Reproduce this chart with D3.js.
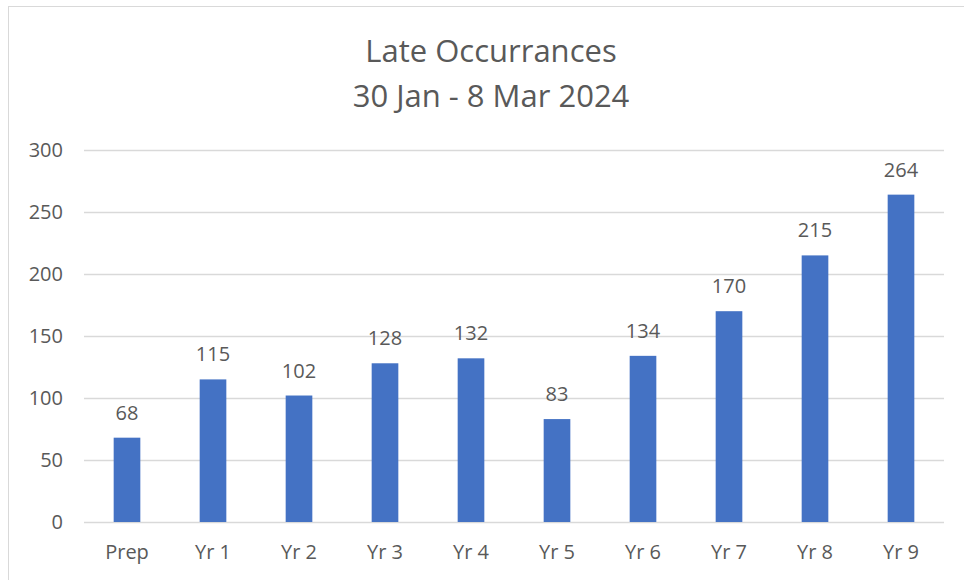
<!DOCTYPE html>
<html>
<head>
<meta charset="utf-8">
<script src="https://cdn.jsdelivr.net/npm/d3@7"></script>
<style>
  body { margin: 0; background: #fff; }
  svg text { font-family: "Open Sans", sans-serif; fill: #595959; }
</style>
</head>
<body>
<svg id="chart" width="964" height="580" viewBox="0 0 964 580"></svg>
<script>
const categories = ["Prep", "Yr 1", "Yr 2", "Yr 3", "Yr 4", "Yr 5", "Yr 6", "Yr 7", "Yr 8", "Yr 9"];
const lateCounts = [68, 115, 102, 128, 132, 83, 134, 170, 215, 264];
const yTicks = [0, 50, 100, 150, 200, 250, 300];
const titleLines = ["Late Occurrances", "30 Jan - 8 Mar 2024"];

const svg = d3.select("#chart");

// chart frame
svg.append("rect")
  .attr("x", 8.5).attr("y", 6.5)
  .attr("width", 980).attr("height", 600)
  .attr("fill", "none")
  .attr("stroke", "#d9d9d9");

const x = d3.scaleBand()
  .domain(categories)
  .range([84, 944])
  .paddingInner(0.69)
  .paddingOuter(0.345);

const y = d3.scaleLinear()
  .domain([0, 300])
  .range([522, 150]);

// gridlines
svg.append("g")
  .selectAll("line")
  .data(yTicks)
  .join("line")
  .attr("x1", 84).attr("x2", 944)
  .attr("y1", d => Math.round(y(d)) + 0.5)
  .attr("y2", d => Math.round(y(d)) + 0.5)
  .attr("stroke", "#d9d9d9")
  .attr("stroke-width", 1.3);

// y axis labels
const yAxis = svg.append("g")
  .attr("transform", "translate(63,0)")
  .call(d3.axisLeft(y).tickValues(yTicks).tickSize(0).tickPadding(0));
yAxis.select(".domain").remove();
yAxis.selectAll("text")
  .attr("font-size", 20)
  .attr("font-family", null)
  .attr("fill", null);

// x axis labels
const xAxis = svg.append("g")
  .attr("transform", "translate(0,522)")
  .call(d3.axisBottom(x).tickSize(0).tickPadding(23));
xAxis.select(".domain").remove();
xAxis.selectAll("text")
  .attr("font-size", 20)
  .attr("font-family", null)
  .attr("fill", null);

// bars
svg.append("g")
  .selectAll("rect")
  .data(lateCounts)
  .join("rect")
  .attr("x", (d, i) => x(categories[i]))
  .attr("y", d => y(d))
  .attr("width", x.bandwidth())
  .attr("height", d => y(0) - y(d))
  .attr("fill", "#4472c4");

// value labels
svg.append("g")
  .selectAll("text")
  .data(lateCounts)
  .join("text")
  .attr("x", (d, i) => x(categories[i]) + x.bandwidth() / 2)
  .attr("y", d => y(d) - 18)
  .attr("text-anchor", "middle")
  .attr("font-size", 20)
  .text(d => d);

// title
svg.append("g")
  .selectAll("text")
  .data(titleLines)
  .join("text")
  .attr("x", 491)
  .attr("y", (d, i) => 62 + i * 45)
  .attr("text-anchor", "middle")
  .attr("font-size", 31)
  .text(d => d);
</script>
</body>
</html>
